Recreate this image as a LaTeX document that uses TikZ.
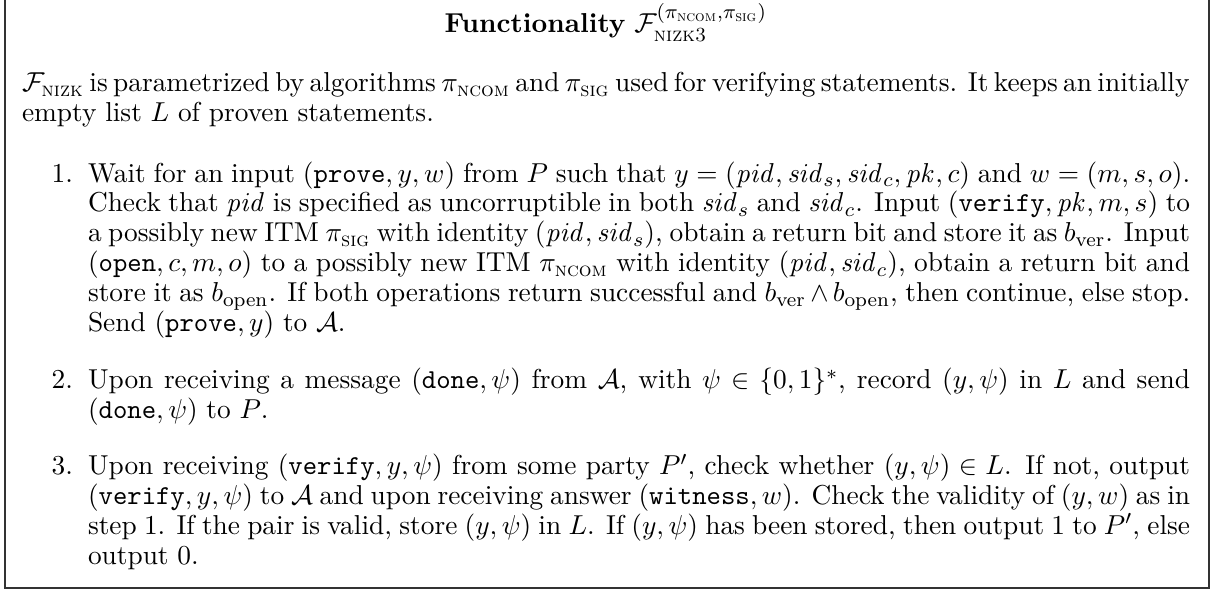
\documentclass[tikz,border=0pt]{standalone}
\usepackage{amsmath}
\usepackage{amssymb}
\hyphenpenalty=10000
\newcommand{\boxfont}{\fontsize{10.95}{12}\selectfont\spaceskip=0.32em plus 0.2em minus 0.16em\relax}

\begin{document}
\begin{tikzpicture}
\tikzstyle{every node}=[inner sep=0pt, outer sep=0pt, font=\boxfont];
\tikzstyle{para}=[anchor=base west, text width=16.42cm, align=justify];
\tikzstyle{itemtext}=[anchor=base west, text width=15.50cm, align=justify];
\tikzstyle{itemnum}=[anchor=base east];

  \useasboundingbox (0,0) rectangle (17.06,8.326);
  \draw [line width=0.6pt, black!80] (0.07,8.6) rectangle (17.00,0.056);

  \node (title) at (8.52,7.862) [anchor=base] {\textbf{Functionality} $\mathcal{F}^{(\pi_{\textsc{ncom}},\pi_{\textsc{sig}})}_{\textsc{nizk3}}$};

  \node (intro) at (0.31,7.032) [para] {$\mathcal{F}_{\textsc{nizk}}$ is parametrized by algorithms $\pi_{\textsc{ncom}}$ and $\pi_{\textsc{sig}}$ used for verifying statements. It keeps an initially\linebreak empty list $L$ of proven statements.};

  \node (i1) at (1.238,5.766) [itemtext] {Wait for an input $(\texttt{prove},y,w)$ from $P$ such that $y=(\mathit{pid},\mathit{sid}_s,\mathit{sid}_c,\mathit{pk},c)$ and $w=(m,s,o)$.\linebreak Check that $\mathit{pid}$ is specified as uncorruptible in both $\mathit{sid}_s$ and $\mathit{sid}_c$. Input $(\texttt{verify},\mathit{pk},m,s)$ to\linebreak a possibly new ITM $\pi_{\textsc{sig}}$ with identity $(\mathit{pid},\mathit{sid}_s)$, obtain a return bit and store it as $b_{\text{ver}}$. Input\linebreak $(\texttt{open},c,m,o)$ to a possibly new ITM $\pi_{\textsc{ncom}}$ with identity $(\mathit{pid},\mathit{sid}_c)$, obtain a return bit and\linebreak store it as $b_{\text{open}}$. If both operations return successful and $b_{\text{ver}}\wedge b_{\text{open}}$, then continue, else stop.\linebreak Send $(\texttt{prove},y)$ to $\mathcal{A}$.};

  \node (i2) at (1.238,2.855) [itemtext] {Upon receiving a message $(\texttt{done},\psi)$ from $\mathcal{A}$, with $\psi\in\{0,1\}^*$, record $(y,\psi)$ in $L$ and send\linebreak $(\texttt{done},\psi)$ to $P$.};

  \node (i3) at (1.238,1.646) [itemtext] {Upon receiving $(\texttt{verify},y,\psi)$ from some party $P'$, check whether $(y,\psi)\in L$. If not, output\linebreak $(\texttt{verify},y,\psi)$ to $\mathcal{A}$ and upon receiving answer $(\texttt{witness},w)$. Check the validity of $(y,w)$ as in\linebreak step 1. If the pair is valid, store $(y,\psi)$ in $L$. If $(y,\psi)$ has been stored, then output 1 to $P'$, else\linebreak output 0.};

  \foreach \n in {1,2,3}
\node (n\n) [itemnum] at ([xshift=-6pt]i\n.base west) {\n.};

\end{tikzpicture}
\end{document}
